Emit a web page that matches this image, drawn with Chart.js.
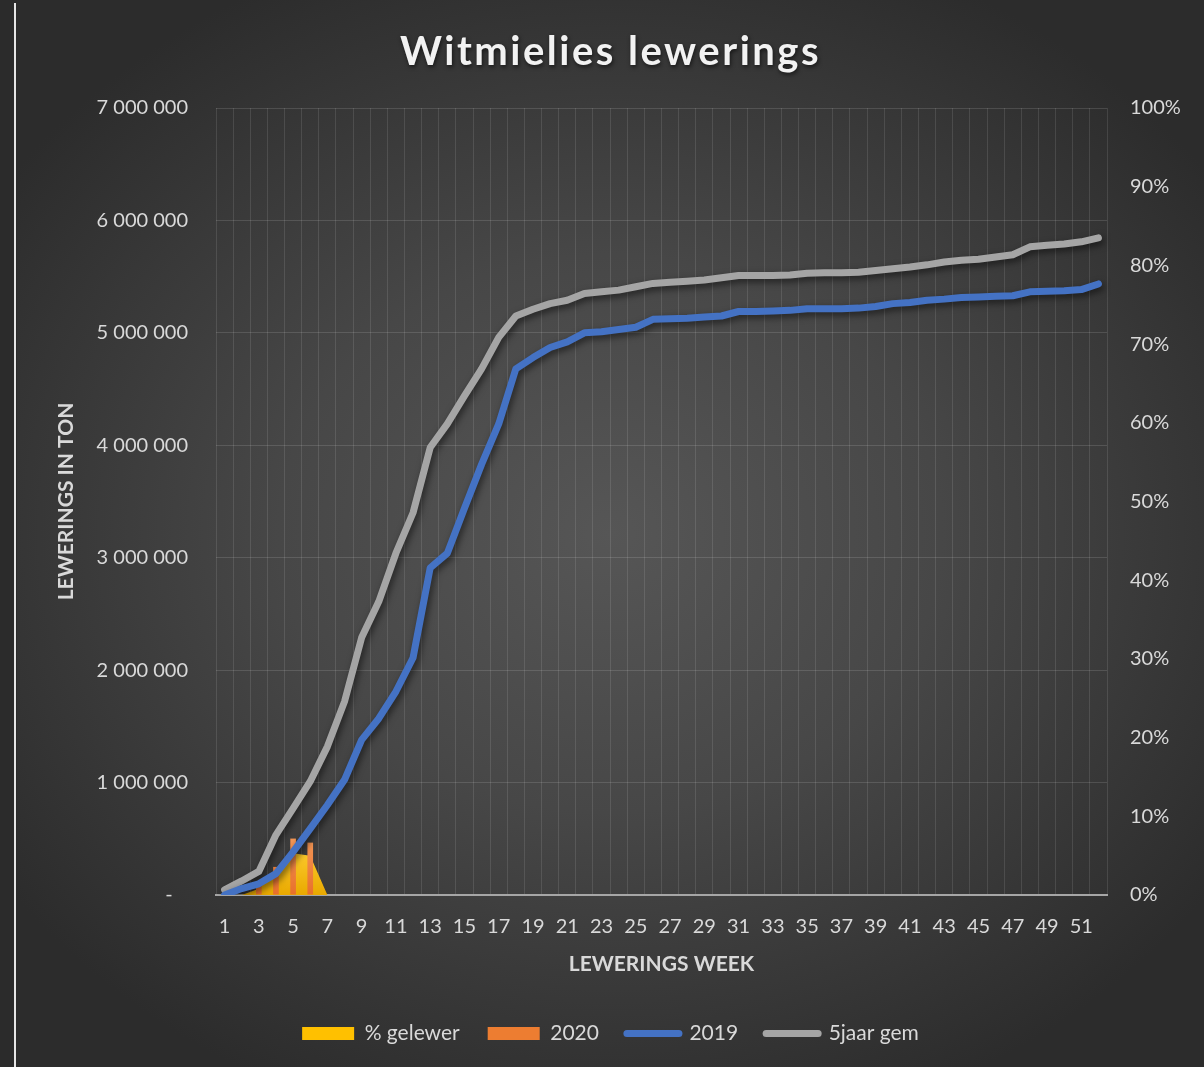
<!DOCTYPE html>
<html>
<head>
<meta charset="utf-8">
<script src="https://cdn.jsdelivr.net/npm/chart.js@4"></script>
<style>
  html, body { margin: 0; padding: 0; background: #2b2b2b; }
  body { width: 1204px; height: 1067px; position: relative; overflow: hidden; }
  #edge { position: absolute; left: 14px; top: 3px; width: 2px; height: 1064px; background: #e6e6e6; }
  #wrap {
    position: absolute; left: 17px; top: 0; width: 1187px; height: 1067px;
    background: radial-gradient(ellipse 62% 58% at 50% 50%, #565656 0%, #474747 45%, #2c2c2c 100%);
  }
</style>
</head>
<body>
<div id="edge"></div>
<div id="wrap"><canvas id="chart" width="1187" height="1067"></canvas></div>
<script>
const weeks = Array.from({ length: 52 }, (_, i) => String(i + 1));

// % gelewer (right axis, percent)
const pctDelivered = [0, 0, 0.8, 3.0, 5.3, 5.0, 0, null, null, null, null, null, null,
  null, null, null, null, null, null, null, null, null, null, null, null, null,
  null, null, null, null, null, null, null, null, null, null, null, null, null,
  null, null, null, null, null, null, null, null, null, null, null, null, null];

// 2020 weekly deliveries (ton)
const deliveries2020 = [0, 0, 116000, 250000, 502000, 466000, null, null, null, null, null, null, null,
  null, null, null, null, null, null, null, null, null, null, null, null, null,
  null, null, null, null, null, null, null, null, null, null, null, null, null,
  null, null, null, null, null, null, null, null, null, null, null, null, null];

// 2019 cumulative (ton)
const cum2019 = [0, 57000, 100000, 190000, 383000, 590000, 800000, 1025000, 1380000, 1570000,
  1810000, 2110000, 2910000, 3040000, 3440000, 3830000, 4190000, 4680000, 4780000, 4870000,
  4920000, 5000000, 5010000, 5030000, 5050000, 5120000, 5125000, 5130000, 5140000, 5150000,
  5190000, 5190000, 5195000, 5200000, 5215000, 5215000, 5215000, 5220000, 5235000, 5260000,
  5270000, 5290000, 5300000, 5315000, 5320000, 5325000, 5330000, 5365000, 5370000, 5375000,
  5385000, 5435000];

// 5jaar gem cumulative (ton)
const avg5yr = [45000, 125000, 210000, 535000, 770000, 1010000, 1320000, 1720000, 2290000, 2610000,
  3040000, 3400000, 3980000, 4190000, 4440000, 4680000, 4960000, 5150000, 5210000, 5260000,
  5290000, 5350000, 5365000, 5380000, 5410000, 5440000, 5450000, 5460000, 5470000, 5490000,
  5510000, 5510000, 5510000, 5515000, 5530000, 5535000, 5535000, 5540000, 5555000, 5570000,
  5585000, 5605000, 5630000, 5645000, 5655000, 5675000, 5695000, 5765000, 5780000, 5790000,
  5810000, 5845000];

const textColor = '#d9d9d9';
const gridColor = 'rgba(255,255,255,0.11)';
const fontFamily = 'Lato, "Open Sans", sans-serif';

function vGradient(chart, top, c1, c2) {
  const area = chart.chartArea;
  if (!area) return c2;
  const g = chart.ctx.createLinearGradient(0, top, 0, area.bottom);
  g.addColorStop(0, c1);
  g.addColorStop(1, c2);
  return g;
}

const fmtTon = v => v === 0 ? '-   ' : String(v).replace(/\B(?=(\d{3})+(?!\d))/g, ' ');

// shadows under the lines + spaced title
const styling = {
  id: 'styling',
  afterInit(chart) {
    const tb = chart.titleBlock;
    const orig = tb.draw.bind(tb);
    tb.draw = function () {
      const ctx = chart.ctx;
      ctx.save();
      ctx.letterSpacing = '2.5px';
      ctx.shadowColor = 'rgba(0,0,0,0.6)';
      ctx.shadowBlur = 4;
      ctx.shadowOffsetX = 1;
      ctx.shadowOffsetY = 2;
      orig();
      ctx.restore();
    };
  },
  beforeDatasetDraw(chart, args) {
    if (args.index < 2) return;
    const ctx = chart.ctx;
    ctx.save();
    ctx.shadowColor = 'rgba(0,0,0,0.55)';
    ctx.shadowBlur = 7;
    ctx.shadowOffsetX = 2;
    ctx.shadowOffsetY = 3;
  },
  afterDatasetDraw(chart, args) {
    if (args.index < 2) return;
    chart.ctx.restore();
  }
};

new Chart(document.getElementById('chart'), {
  type: 'bar',
  data: {
    labels: weeks,
    datasets: [
      {
        type: 'line',
        label: '% gelewer',
        data: pctDelivered,
        yAxisID: 'yPct',
        fill: 'origin',
        borderWidth: 0,
        pointRadius: 0,
        tension: 0,
        order: 4,
        borderColor: '#ffc000',
        backgroundColor: c => vGradient(c.chart, 845, '#ffcf33', '#e9a900')
      },
      {
        type: 'bar',
        label: '2020',
        data: deliveries2020,
        yAxisID: 'yTon',
        order: 3,
        barPercentage: 0.33,
        categoryPercentage: 1,
        backgroundColor: c => vGradient(c.chart, 835, '#f59a5a', '#e8702a')
      },
      {
        type: 'line',
        label: '2019',
        data: cum2019,
        yAxisID: 'yTon',
        borderColor: '#4472c4',
        backgroundColor: '#4472c4',
        borderWidth: 7,
        borderCapStyle: 'round',
        borderJoinStyle: 'round',
        pointRadius: 0,
        tension: 0,
        fill: false,
        order: 1
      },
      {
        type: 'line',
        label: '5jaar gem',
        data: avg5yr,
        yAxisID: 'yTon',
        borderColor: '#a5a5a5',
        backgroundColor: '#a5a5a5',
        borderWidth: 7,
        borderCapStyle: 'round',
        borderJoinStyle: 'round',
        pointRadius: 0,
        tension: 0,
        fill: false,
        order: 2
      }
    ]
  },
  options: {
    responsive: false,
    animation: false,
    layout: { padding: { left: 0, right: 0, top: 0, bottom: 13 } },
    plugins: {
      tooltip: { enabled: false },
      title: {
        display: true,
        text: 'Witmielies lewerings',
        color: '#f2f2f2',
        font: { family: fontFamily, size: 40, weight: 'bold' },
        padding: { top: 28, bottom: 32 }
      },
      legend: {
        position: 'bottom',
        labels: {
          color: textColor,
          font: { family: fontFamily, size: 21 },
          usePointStyle: true,
          pointStyleWidth: 52,
          boxHeight: 13,
          padding: 28,
          sort: (a, b) => a.datasetIndex - b.datasetIndex,
          generateLabels(chart) {
            const items = Chart.defaults.plugins.legend.labels.generateLabels(chart);
            items.forEach(it => {
              if (it.datasetIndex === 0) {
                it.pointStyle = 'rect'; it.fillStyle = '#ffc000'; it.lineWidth = 0;
              } else if (it.datasetIndex === 1) {
                it.pointStyle = 'rect'; it.fillStyle = '#ed7d31'; it.lineWidth = 0;
              } else {
                it.pointStyle = 'line'; it.lineWidth = 7; it.lineCap = 'round';
              }
            });
            return items;
          }
        }
      }
    },
    scales: {
      x: {
        offset: true,
        afterFit: s => { s.height = 100; },
        grid: { offset: true, color: gridColor, drawTicks: false },
        border: { display: true, color: '#a6a6a6', width: 2 },
        ticks: {
          color: textColor,
          font: { family: fontFamily, size: 20 },
          padding: 20,
          autoSkip: false,
          maxRotation: 0,
          callback: (v, i) => i % 2 === 0 ? weeks[i] : ''
        },
        title: {
          display: true,
          text: 'LEWERINGS WEEK',
          color: textColor,
          font: { family: fontFamily, size: 21, weight: 'bold' },
          padding: { top: 0, bottom: 18.4 }
        }
      },
      yTon: {
        position: 'left',
        min: 0,
        max: 7000000,
        afterFit: s => { s.width = 199; },
        grid: { color: 'rgba(255,255,255,0.13)', drawTicks: false },
        border: { display: false },
        ticks: {
          stepSize: 1000000,
          color: textColor,
          font: { family: fontFamily, size: 20 },
          padding: 28,
          callback: v => fmtTon(v)
        },
        title: {
          display: true,
          text: 'LEWERINGS IN TON',
          color: textColor,
          font: { family: fontFamily, size: 21, weight: 'bold' },
          padding: { top: 36.4, bottom: 0 }
        }
      },
      yPct: {
        position: 'right',
        min: 0,
        max: 100,
        afterFit: s => { s.width = 97; },
        grid: { display: false, drawTicks: false },
        border: { display: false },
        ticks: {
          stepSize: 10,
          color: textColor,
          font: { family: fontFamily, size: 20 },
          padding: 23,
          callback: v => v + '%'
        }
      }
    }
  },
  plugins: [styling]
});
</script>
</body>
</html>
